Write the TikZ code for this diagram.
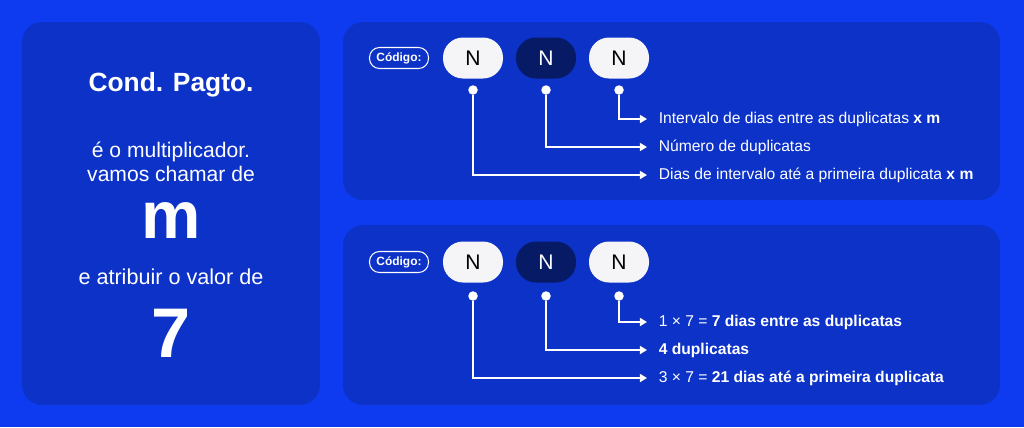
\documentclass[tikz,border=0pt]{standalone}
\usepackage{fontspec}
\setmainfont{Liberation Sans}
\usetikzlibrary{arrows.meta}
\definecolor{bgblue}{RGB}{14,58,240}
\definecolor{panelblue}{RGB}{12,50,200}
\definecolor{navy}{RGB}{6,26,102}
\definecolor{pillwhite}{RGB}{245,245,248}
\begin{document}
\begin{tikzpicture}[x=0.02cm,y=-0.02cm,
  panel/.style={fill=panelblue, rounded corners=0.4cm, inner sep=0pt},
  pill/.style={rounded corners=0.4cm, minimum width=1.2cm, minimum height=0.82cm, inner sep=0pt, font=\fontsize{12}{14}\selectfont},
  codetag/.style={draw=white, line width=0.6pt, rounded corners=0.2cm, minimum width=1.18cm, minimum height=0.42cm, inner sep=0pt, text=white, font=\fontsize{6.8}{8}\selectfont\bfseries},
  dot/.style={circle, fill=white, inner sep=0pt, minimum size=0.19cm},
  label/.style={anchor=west, text=white, inner sep=0pt, inner xsep=6.5pt, font=\fontsize{8.9}{10}\selectfont},
  link/.style={draw=white, line width=1.1pt, -{Triangle[width=4.5pt,length=4pt]}},
  bigtext/.style={text=white, align=center}]
\fill[bgblue] (0,0) rectangle (1024,427);

\node[panel, minimum width=5.96cm, minimum height=7.66cm] (left) at (171,213.5) {};
\node[panel, minimum width=13.14cm, minimum height=3.56cm] (top) at (671.5,111) {};
\node[panel, minimum width=13.14cm, minimum height=3.6cm] (bottom) at (671.5,315) {};

% left panel
\node[bigtext, font=\fontsize{15}{17}\selectfont\bfseries] (title) at (171,85) {Cond. Pagto.};
\node[bigtext, font=\fontsize{12}{13.6}\selectfont] (mult) at (171,162) {é o multiplicador.\\vamos chamar de};
\node[bigtext, font=\fontsize{38}{40}\selectfont\bfseries] (mletter) at (171,221) {m};
\node[bigtext, font=\fontsize{12.3}{13}\selectfont] (atrib) at (171,277) {e atribuir o valor de};
\node[bigtext, font=\fontsize{40}{44}\selectfont\bfseries] (seven) at (171,333) {7};

% top panel
\node[codetag] (ca) at (399,58) {Código:};
\node[pill, fill=pillwhite, text=black] (a1) at (473,58) {N};
\node[pill, fill=navy, text=white] (a2) at (546,58) {N};
\node[pill, fill=pillwhite, text=black] (a3) at (619,58) {N};
\node[dot] (p1) at (473,90) {};
\node[dot] (p2) at (546,90) {};
\node[dot] (p3) at (619,90) {};
\node[label] (u3) at (647,119) {Intervalo de dias entre as duplicatas \textbf{x m}};
\node[label] (u2) at (647,147) {Número de duplicatas};
\node[label] (u1) at (647,175) {Dias de intervalo até a primeira duplicata \textbf{x m}};
\draw[link] (p3) |- (u3.west);
\draw[link] (p2) |- (u2.west);
\draw[link] (p1) |- (u1.west);

% bottom panel
\node[codetag] (cb) at (399,262) {Código:};
\node[pill, fill=pillwhite, text=black] (b1) at (473,262) {N};
\node[pill, fill=navy, text=white] (b2) at (546,262) {N};
\node[pill, fill=pillwhite, text=black] (b3) at (619,262) {N};
\node[dot] (q1) at (473,296) {};
\node[dot] (q2) at (546,296) {};
\node[dot] (q3) at (619,296) {};
\node[label] (v3) at (647,322) {1 × 7 = \textbf{7 dias entre as duplicatas}};
\node[label] (v2) at (647,350) {\textbf{4 duplicatas}};
\node[label] (v1) at (647,378) {3 × 7 = \textbf{21 dias até a primeira duplicata}};
\draw[link] (q3) |- (v3.west);
\draw[link] (q2) |- (v2.west);
\draw[link] (q1) |- (v1.west);
\end{tikzpicture}
\end{document}
